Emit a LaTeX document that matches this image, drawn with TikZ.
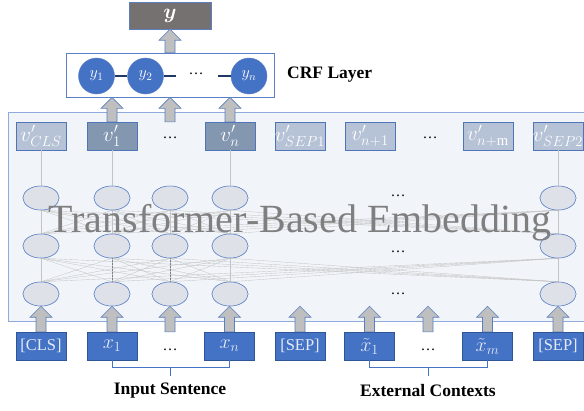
\RequirePackage{fix-cm}
\documentclass[tikz,border=0pt]{standalone}
\usepackage{fontspec}
\setmainfont{Liberation Serif}
\usepackage{amsmath,amssymb,bm}
\usetikzlibrary{shapes.geometric,calc}
\definecolor{inf}{HTML}{4472C4}
\definecolor{inb}{HTML}{2F5597}
\definecolor{vl}{HTML}{B6C2D5}
\definecolor{vd}{HTML}{8497B0}
\definecolor{vb}{HTML}{4F74B8}
\definecolor{ellf}{HTML}{DEE2E8}
\definecolor{ellb}{HTML}{5B80C8}
\definecolor{bigf}{HTML}{F1F5FA}
\definecolor{bigb}{HTML}{8FAADC}
\definecolor{arrf}{HTML}{BFBFBF}
\definecolor{arrb}{HTML}{5B7FC0}
\definecolor{ygray}{HTML}{767171}
\definecolor{navy}{HTML}{1F3864}
\definecolor{lineg}{HTML}{C4C4C4}
\definecolor{tgray}{HTML}{7F7F7F}
\definecolor{intext}{HTML}{E4EAF6}
\tikzset{
 inbox/.style={draw=inb, fill=inf, text=intext, minimum width=50pt, minimum height=28pt, inner sep=0pt, font=\fontsize{16.5}{18}\selectfont},
 mathin/.style={inbox, font=\fontsize{20}{22}\selectfont},
 vlight/.style={draw=vb, fill=vl, text=white, minimum width=50pt, minimum height=28pt, inner sep=0pt, font=\fontsize{21}{22}\selectfont},
 vdark/.style={vlight, fill=vd},
 ell/.style={ellipse, draw=ellb, fill=ellf, minimum width=36pt, minimum height=24pt, inner sep=0pt, line width=0.5pt},
 crfc/.style={circle, draw=ellb, fill=inf, text=white, minimum size=36pt, inner sep=0pt, font=\fontsize{16}{17}\selectfont},
 blockarr/.style={draw=arrb, fill=arrf, line width=0.6pt},
 dotsn/.style={font=\fontsize{15}{16}\selectfont, inner sep=0pt},
 lbl/.style={font=\bfseries\fontsize{17.5}{18}\selectfont, inner sep=0pt},
 brk/.style={draw=inf, line width=0.8pt},
 vline/.style={draw=lineg, line width=0.5pt},
 xline/.style={draw=lineg, line width=0.35pt},
 crfl/.style={draw=navy, line width=1.2pt},
}
\newcommand\uparr[2]{\path[blockarr] let \p1=(#1), \p2=(#2) in (\x1-5pt,\y1) -- (\x1+5pt,\y1) -- (\x1+5pt,\y2-11pt) -- (\x1+11pt,\y2-11pt) -- (\x1,\y2) -- (\x1-11pt,\y2-11pt) -- (\x1-5pt,\y2-11pt) -- cycle;}
\begin{document}
\begin{tikzpicture}[x=1pt,y=-1pt]
\useasboundingbox (0,0) rectangle (584,410);
% big box
\node[draw=bigb, fill=bigf, line width=0.8pt, minimum width=590pt, minimum height=209pt, inner sep=0pt, anchor=north west] (big) at (8,112) {};
% top y box
\node[draw=arrb, fill=ygray, text=white, minimum width=82pt, minimum height=27pt, inner sep=0pt, font=\fontsize{21}{21}\selectfont] (ybox) at (170,15.5) {$\bm{y}$};
% CRF box
\node[draw=ellb, fill=white, minimum width=208pt, minimum height=44pt, inner sep=0pt, line width=0.8pt] (crf) at (170,75) {};
\node[crfc] (c1) at (96.5,76) {$y_1$};
\node[crfc] (c2) at (145.5,76) {$y_2$};
\node[crfc] (cn) at (249,76) {$y_n$};
\node[dotsn] (cd) at (196,74) {\dots};
\coordinate (cl1) at (176,76);
\coordinate (cl2) at (218,76);
\draw[crfl] (c1) -- (c2);
\draw[crfl] (c2.east) -- (cl1);
\draw[crfl] (cl2) -- (cn.west);
\node[lbl, anchor=west] (crflbl) at (287,75) {CRF Layer};
% v' row
\node[vlight] (vcls) at (41,136) {$v'_{CLS}$};
\node[vdark] (v1) at (112,136) {$v'_{1}$};
\node[dotsn] (dv) at (170,138) {\dots};
\node[vdark] (vn) at (230,136) {$v'_{n}$};
\node[vlight] (vsa) at (300,136) {$v'_{SEP1}$};
\node[vlight] (vn1) at (370,136) {$v'_{n+1}$};
\node[dotsn] (dv2) at (430,138) {\dots};
\node[vlight] (vnm) at (488,136) {$v'_{n+\mathrm{m}}$};
\node[vlight] (vsb) at (558,136) {$v'_{SEP2}$};
% ellipses
\foreach \r/\yy in {1/198,2/246,3/294}{
  \foreach \c/\xx in {a/41,b/112,c/170,d/230,e/558}{
    \node[ell] (e\r\c) at (\xx,\yy) {};
  }
}
\node[dotsn] (ed1) at (398,196) {\dots};
\node[dotsn] (ed2) at (398,252) {\dots};
\node[dotsn] (ed3) at (398,294) {\dots};
% cross lines
\foreach \r/\s in {1/2,2/3}{
  \foreach \c in {a,b,c,d,e}{
    \foreach \d in {a,b,c,d,e}{
      \draw[xline] (e\r\c.south) -- (e\s\d.north);
    }
  }
}
\draw[vline] (vcls.south) -- (e1a.north);
\draw[vline] (v1.south) -- (e1b.north);
\draw[vline] (vn.south) -- (e1d.north);
\draw[vline] (vsb.south) -- (e1e.north);
\draw[vline, draw=gray, densely dotted] (e2b.south) -- (e3b.north);
\draw[vline, draw=gray, densely dotted] (e2c.south) -- (e3c.north);
% redraw ellipses on top of lines
\foreach \r/\yy in {1/198,2/246,3/294}{
  \foreach \c/\xx in {a/41,b/112,c/170,d/230,e/558}{
    \node[ell] at (\xx,\yy) {};
  }
}
\node[font=\fontsize{40}{40}\selectfont, text=tgray, anchor=base, inner sep=0pt] (tbe) at (300,232) {Transformer-Based Embedding};
% inputs
\node[inbox] (cls) at (41,346) {[CLS]};
\node[mathin] (x1) at (112,346) {$x_1$};
\node[dotsn] (dA) at (170,350) {\dots};
\node[mathin] (xn) at (229.5,346) {$x_n$};
\node[inbox] (sa) at (300,346) {[SEP]};
\node[mathin] (xt1) at (369.5,346) {$\tilde{x}_1$};
\node[dotsn] (dB) at (428,350) {\dots};
\node[mathin] (xtm) at (487.5,346) {$\tilde{x}_m$};
\node[inbox] (sb) at (558,346) {[SEP]};
% bottom arrows
\uparr{cls.north}{e3a.south}
\uparr{x1.north}{e3b.south}
\uparr{dA |- x1.north}{e3c.south}
\uparr{xn.north}{e3d.south}
\uparr{sa.north}{sa |- e3a.south}
\uparr{xt1.north}{xt1 |- e3a.south}
\uparr{dB |- x1.north}{dB |- e3a.south}
\uparr{xtm.north}{xtm |- e3a.south}
\uparr{sb.north}{e3e.south}
% top arrows
\uparr{v1.north}{v1 |- crf.south}
\uparr{dv |- v1.north}{dv |- crf.south}
\uparr{vn.north}{vn |- crf.south}
\uparr{crf.north}{ybox.south}
% brackets
\coordinate (bA) at (170.75,367);
\coordinate (bB) at (428.5,367);
\draw[brk] (x1.south) -- (x1.south |- bA) -- (xn.south |- bA) -- (xn.south);
\draw[brk] (bA) -- ++(0,9);
\draw[brk] (xt1.south) -- (xt1.south |- bB) -- (xtm.south |- bB) -- (xtm.south);
\draw[brk] (bB) -- ++(0,9);
\node[lbl] (isl) at (170,391) {Input Sentence};
\node[lbl] (ecl) at (428,391) {External Contexts};
\end{tikzpicture}
\end{document}
